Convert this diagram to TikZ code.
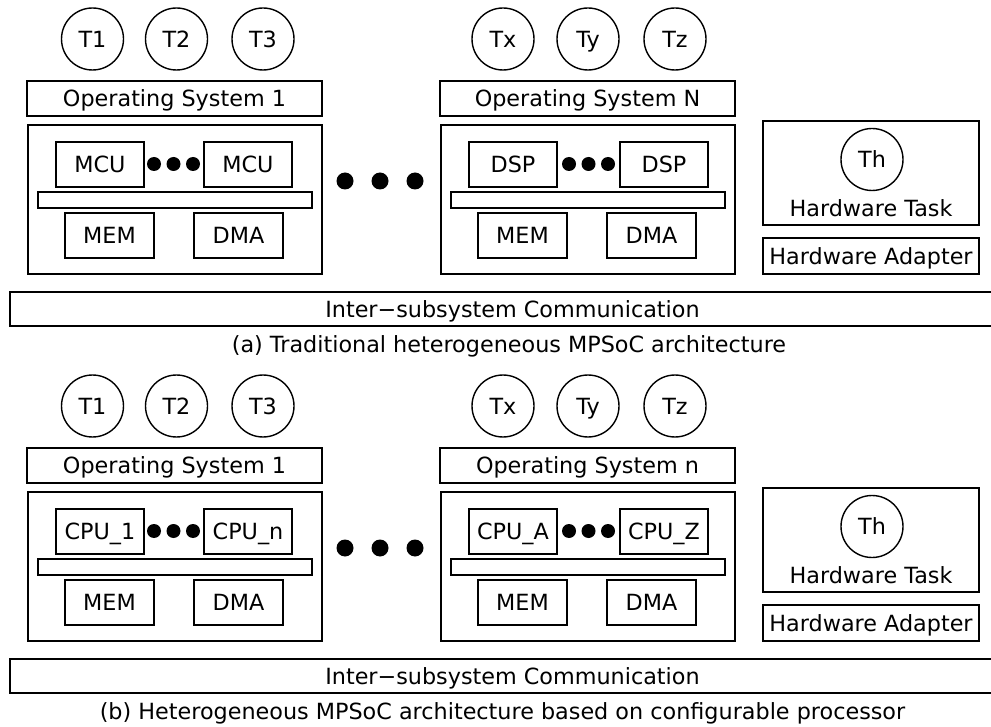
\documentclass[tikz,border=0pt]{standalone}
\usepackage{fontspec}
\setmainfont{DejaVu Sans}
\tikzset{
  box/.style={draw, line width=1.7pt, inner sep=0pt, text height=16.3pt, text depth=0pt},
  task/.style={draw, circle, line width=1.4pt, minimum size=62pt, inner sep=0pt, text height=16.3pt, text depth=0pt},
  lbl/.style={inner sep=0pt, text height=16.3pt, text depth=0pt},
  bigdot/.style={circle, fill, minimum size=17pt, inner sep=0pt},
  smalldot/.style={circle, fill, minimum size=14pt, inner sep=0pt},
}
% #1 prefix, #2 right OS label, #3 #4 left processors, #5 #6 right processors, #7 caption, #8 caption x
\newcommand\archhalf[8]{%
  % tasks
  \node[task] (#1t1) at (92.5,39) {T1};
  \node[task] (#1t2) at (176.5,39) {T2};
  \node[task] (#1t3) at (263,39) {T3};
  \node[task] (#1tx) at (503,39) {Tx};
  \node[task] (#1ty) at (588,39) {Ty};
  \node[task] (#1tz) at (675,39) {Tz};
  % operating systems
  \node[box, minimum width=295pt, minimum height=35pt] (#1osa) at (174.5,98.5) {Operating System 1};
  \node[box, minimum width=295pt, minimum height=35pt] (#1osb) at (587.5,98.5) {#2};
  % subsystem 1
  \node[box, minimum width=294pt, minimum height=149pt] (#1suba) at (175,199.5) {};
  \node[box, minimum width=88pt, minimum height=45pt] (#1pa1) at (100,164.5) {#3};
  \node[box, minimum width=88pt, minimum height=45pt] (#1pa2) at (248,164.5) {#4};
  \node[smalldot] (#1da1) at (154,164) {};
  \node[smalldot] (#1da2) at (173.5,164) {};
  \node[smalldot] (#1da3) at (193,164) {};
  \node[box, minimum width=274pt, minimum height=14pt] (#1busa) at (175,200) {};
  \node[box, minimum width=89pt, minimum height=45pt] (#1mema) at (109.5,235.5) {MEM};
  \node[box, minimum width=89pt, minimum height=45pt] (#1dmaa) at (238.5,235.5) {DMA};
  % ellipsis between subsystems
  \node[bigdot] (#1e1) at (345,181) {};
  \node[bigdot] (#1e2) at (380,181) {};
  \node[bigdot] (#1e3) at (415,181) {};
  % subsystem N
  \node[box, minimum width=294pt, minimum height=149pt] (#1subb) at (588,199.5) {};
  \node[box, minimum width=88pt, minimum height=45pt] (#1pb1) at (513,164.5) {#5};
  \node[box, minimum width=88pt, minimum height=45pt] (#1pb2) at (664,164.5) {#6};
  \node[smalldot] (#1db1) at (569,164) {};
  \node[smalldot] (#1db2) at (588.5,164) {};
  \node[smalldot] (#1db3) at (608,164) {};
  \node[box, minimum width=274pt, minimum height=14pt] (#1busb) at (588,200) {};
  \node[box, minimum width=89pt, minimum height=45pt] (#1memb) at (522.5,235.5) {MEM};
  \node[box, minimum width=89pt, minimum height=45pt] (#1dmab) at (651.5,235.5) {DMA};
  % hardware task
  \node[box, minimum width=216pt, minimum height=104pt] (#1hwt) at (871,173) {};
  \node[task] (#1th) at (872,159.5) {Th};
  \node[lbl] (#1hwtl) at (871,208) {Hardware Task};
  \node[box, minimum width=216pt, minimum height=36pt] (#1hwa) at (871,256) {Hardware Adapter};
  % communication
  \node[box, minimum width=1005pt, minimum height=34pt] (#1comm) at (512.5,309) {Inter−subsystem Communication};
  \node[inner sep=0pt, anchor=base] (#1cap) at (#8,352.5) {#7};
}
\begin{document}
\begin{tikzpicture}[x=1pt, y=-1pt, font=\fontsize{22.3pt}{26pt}\selectfont]
  \useasboundingbox (0,0) rectangle (991,727);
  \begin{scope}
    \archhalf{a}{Operating System N}{MCU}{MCU}{DSP}{DSP}{(a) Traditional heterogeneous MPSoC architecture}{509}
  \end{scope}
  \begin{scope}[yshift=-367pt]
    \archhalf{b}{Operating System n}{CPU\_1}{CPU\_n}{CPU\_A}{CPU\_Z}{(b) Heterogeneous MPSoC architecture based on configurable processor}{502.5}
  \end{scope}
\end{tikzpicture}
\end{document}
